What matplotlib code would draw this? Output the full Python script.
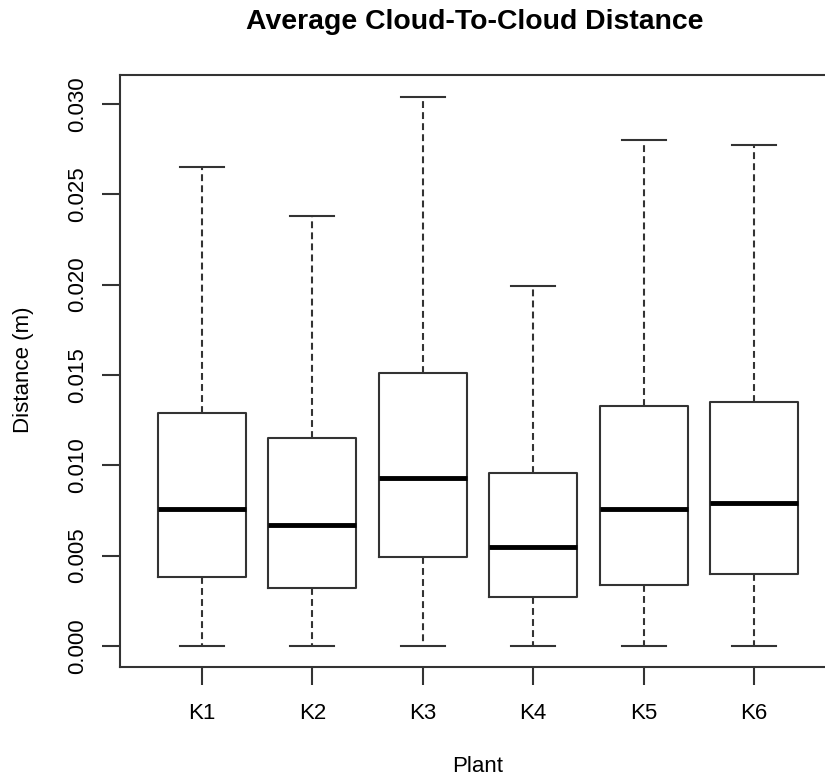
import matplotlib
matplotlib.use("Agg")
import matplotlib.pyplot as plt

plt.rcParams['font.family'] = ['Liberation Sans', 'DejaVu Sans']

plants = ["K1", "K2", "K3", "K4", "K5", "K6"]
whisk_lo = [0.0, 0.0, 0.0, 0.0, 0.0, 0.0]
q1 = [0.0038, 0.0032, 0.0049, 0.0027, 0.0034, 0.0040]
medians = [0.0076, 0.0067, 0.0093, 0.0055, 0.0076, 0.0079]
q3 = [0.0129, 0.0115, 0.0151, 0.0096, 0.0133, 0.0135]
whisk_hi = [0.0265, 0.0238, 0.0304, 0.0199, 0.0280, 0.0277]

stats = []
for i, name in enumerate(plants):
    stats.append(dict(label=name, whislo=whisk_lo[i], q1=q1[i], med=medians[i],
                      q3=q3[i], whishi=whisk_hi[i], fliers=[]))

W, H = 825, 783
fig = plt.figure(figsize=(W / 100, H / 100), dpi=100)
# the original is cropped on the right, so the axes run past the figure edge
ax = fig.add_axes([120 / W, 116 / H, 716 / W, 592 / H])

lc = "#333333"
ax.bxp(stats, positions=range(1, 7), widths=0.8, showfliers=False,
       boxprops=dict(color=lc, linewidth=1.5),
       whiskerprops=dict(color=lc, linewidth=1.5, linestyle=(0, (3.3, 2))),
       capprops=dict(color=lc, linewidth=1.5),
       medianprops=dict(color="black", linewidth=3.5),
       capwidths=0.4)

ax.set_xlim(0.26, 6.74)
ax.set_ylim(-0.00116, 0.0316)
ax.set_yticks([0.0, 0.005, 0.010, 0.015, 0.020, 0.025, 0.030])
ax.set_yticklabels(["0.000", "0.005", "0.010", "0.015", "0.020", "0.025", "0.030"],
                   rotation=90, va="center")
ax.set_xticks(range(1, 7))
ax.set_xticklabels(plants)
ax.tick_params(axis="both", length=13, width=1.5, color=lc, labelsize=16)
ax.tick_params(axis="y", pad=10)
ax.tick_params(axis="x", pad=13)
for s in ax.spines.values():
    s.set_linewidth(1.5)
    s.set_color(lc)

fig.text(478 / W, 1 - 767 / H, "Plant", fontsize=16, ha="center", va="center")
fig.text(23 / W, 1 - 370 / H, "Distance (m)", fontsize=16, rotation=90,
         ha="center", va="center")
fig.text(475 / W, 1 - 29 / H, "Average Cloud-To-Cloud Distance", fontsize=20.4,
         fontweight="bold", ha="center", va="baseline")

fig.savefig("out.png", dpi=100)
